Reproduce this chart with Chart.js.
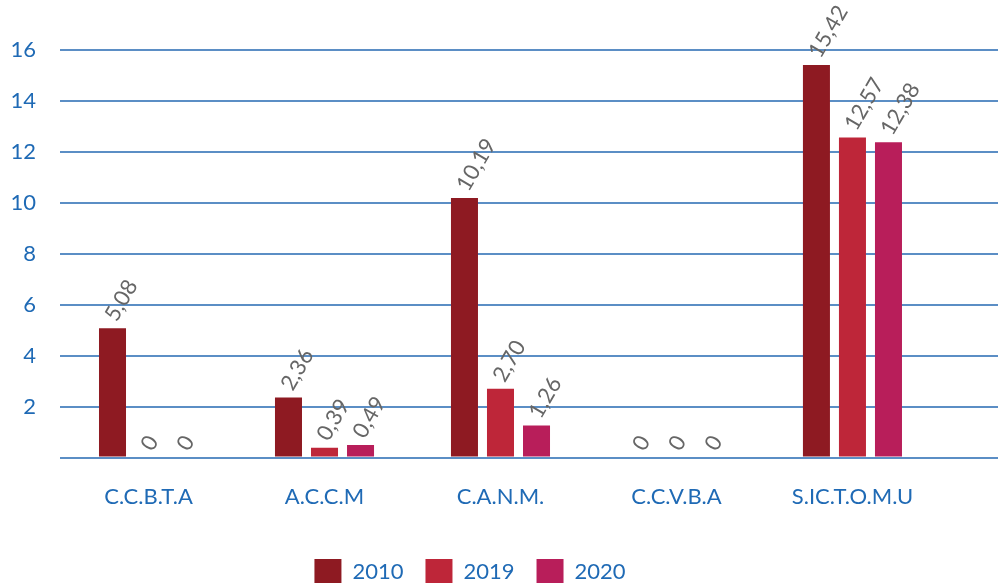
<!DOCTYPE html>
<html>
<head>
<meta charset="utf-8">
<script src="https://cdn.jsdelivr.net/npm/chart.js@4"></script>
<style>
  body { margin: 0; background: #fff; }
  .wrap { width: 998px; height: 583px; }
</style>
</head>
<body>
<div class="wrap"><canvas id="myChart"></canvas></div>
<script>
let categories = ['C.C.B.T.A', 'A.C.C.M', 'C.A.N.M.', 'C.C.V.B.A', 'S.IC.T.O.M.U'];
let years = ['2010', '2019', '2020'];
let values2010 = [5.08, 2.36, 10.19, 0, 15.42];
let values2019 = [0, 0.39, 2.70, 0, 12.57];
let values2020 = [0, 0.49, 1.26, 0, 12.38];
let yTicks = [2, 4, 6, 8, 10, 12, 14, 16];
let colors = ['#8E1A22', '#BE2639', '#B81E5A'];

const blue = '#1F6AB5';
const gridBlue = '#5B8EC5';

function toPoints(arr) {
  return arr.map((v, i) => ({ x: i, y: v }));
}

// rotated value labels above each bar
const barLabels = {
  id: 'barLabels',
  afterDatasetsDraw(chart) {
    const ctx = chart.ctx;
    ctx.save();
    ctx.font = '22px Lato';
    ctx.fillStyle = '#666666';
    ctx.textAlign = 'left';
    ctx.textBaseline = 'middle';
    chart.data.datasets.forEach((ds, i) => {
      chart.getDatasetMeta(i).data.forEach((bar, j) => {
        const v = ds.data[j].y;
        const txt = v === 0 ? '0' : v.toFixed(2).replace('.', ',');
        ctx.save();
        ctx.translate(bar.x - 2, bar.y - 9);
        ctx.rotate(-Math.PI / 3);
        ctx.fillText(txt, 0, 0);
        ctx.restore();
      });
    });
    ctx.restore();
  }
};

// legend sits a bit left of centre in the original
const legendShift = {
  id: 'legendShift',
  afterLayout(chart) {
    chart.legend.left -= 58;
  }
};

const ctx = document.getElementById('myChart');
new Chart(ctx, {
  type: 'bar',
  data: {
    datasets: [
      { label: years[0], data: toPoints(values2010), backgroundColor: colors[0] },
      { label: years[1], data: toPoints(values2019), backgroundColor: colors[1] },
      { label: years[2], data: toPoints(values2020), backgroundColor: colors[2] }
    ]
  },
  options: {
    responsive: true,
    maintainAspectRatio: false,
    animation: false,
    events: [],
    categoryPercentage: 0.614,
    barPercentage: 0.75,
    layout: { padding: { top: 0, right: 0, left: 0, bottom: -12 } },
    scales: {
      x: {
        type: 'linear',
        offset: false,
        min: -0.503,
        max: 4.827,
        afterFit: s => { s.height += 9; },
        grid: { display: false, offset: false },
        border: { display: false },
        ticks: {
          stepSize: 1,
          includeBounds: false,
          autoSkip: false,
          maxRotation: 0,
          padding: 18,
          color: blue,
          font: { family: 'Lato', size: 22 },
          callback: v => Number.isInteger(v) ? categories[v] : ''
        }
      },
      y: {
        min: 0,
        max: 17.45,
        border: { display: false },
        afterFit: s => { s.width = 60; },
        grid: {
          drawTicks: true,
          tickLength: 24,
          tickColor: 'rgba(0,0,0,0)',
          lineWidth: 2,
          color: gridBlue
        },
        ticks: {
          stepSize: 2,
          padding: 0,
          color: blue,
          font: { family: 'Lato', size: 22 },
          callback: v => v === 0 ? '' : (yTicks.includes(v) ? v : null)
        }
      }
    },
    plugins: {
      legend: {
        position: 'bottom',
        labels: {
          boxWidth: 27,
          boxHeight: 26,
          padding: 22,
          color: blue,
          font: { family: 'Lato', size: 22 }
        }
      },
      tooltip: { enabled: false }
    }
  },
  plugins: [barLabels, legendShift]
});
</script>
</body>
</html>
